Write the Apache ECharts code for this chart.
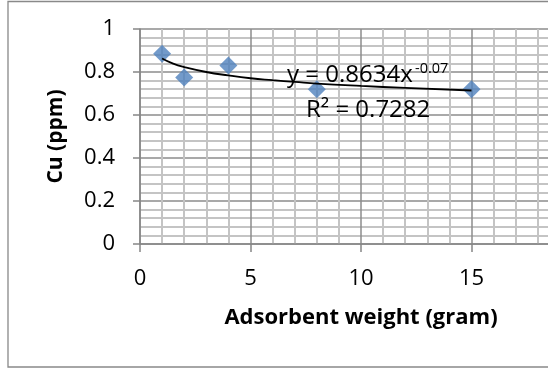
<!DOCTYPE html>
<html>
<head>
<meta charset="utf-8">
<script src="https://cdn.jsdelivr.net/npm/echarts@6/dist/echarts.min.js"></script>
<style>
html,body{margin:0;padding:0;background:#fff;}
#chart{width:548px;height:368px;}
</style>
</head>
<body>
<div id="chart"></div>
<script>
// Data
const weights = [1, 2, 4, 8, 15];
const cuValues = [0.885, 0.775, 0.83, 0.72, 0.72];
// Power trendline as drawn in the picture (y = 0.8634x^-0.07)
const trendX = [1, 1.5, 2, 3, 4, 5, 6, 7, 8, 10, 12, 15];
const trendY = [0.863, 0.839, 0.823, 0.800, 0.784, 0.771, 0.762, 0.754, 0.746, 0.735, 0.726, 0.714];
const yTicks = [0, 0.2, 0.4, 0.6, 0.8, 1];
const xTicks = [0, 5, 10, 15, 20];
const equationText = 'y = 0.8634x';
const exponentText = '-0.07';
const r2Text = 'R² = 0.7282';
const xTitle = 'Adsorbent weight (gram)';
const yTitle = 'Cu (ppm)';

const FONT = '"Open Sans", "Noto Sans", sans-serif';
const chart = echarts.init(document.getElementById('chart'), null, {renderer: 'canvas'});

const scatterData = weights.map((w, i) => [w, cuValues[i]]);
const trendData = trendX.map((x, i) => [x, trendY[i]]);

chart.setOption({
  animation: false,
  backgroundColor: '#fff',
  grid: {left: 140, top: 29, width: 442, height: 215, outerBoundsMode: 'none', containLabel: false},
  xAxis: {
    type: 'value',
    min: xTicks[0], max: xTicks[xTicks.length - 1], interval: 5,
    name: xTitle, nameLocation: 'middle', nameGap: 63,
    nameTextStyle: {fontFamily: FONT, fontSize: 22, fontWeight: 'bold', color: '#000'},
    axisLine: {show: true, onZero: false, lineStyle: {color: '#878787', width: 1.5}},
    axisTick: {show: true, length: 8, lineStyle: {color: '#878787', width: 1.5}},
    axisLabel: {margin: 24, fontFamily: FONT, fontSize: 22, color: '#000', showMaxLabel: false},
    splitLine: {show: true, lineStyle: {color: '#8c8c8c', width: 1.5}},
    minorTick: {show: false, splitNumber: 5},
    minorSplitLine: {show: true, lineStyle: {color: '#c4c4c4', width: 2}}
  },
  yAxis: {
    type: 'value',
    min: yTicks[0], max: yTicks[yTicks.length - 1], interval: 0.2,
    name: yTitle, nameLocation: 'middle', nameGap: 73, nameRotate: 90,
    nameTextStyle: {fontFamily: FONT, fontSize: 21, fontWeight: 'bold', color: '#000'},
    axisLine: {show: true, lineStyle: {color: '#878787', width: 1.5}},
    axisTick: {show: true, length: 7, lineStyle: {color: '#878787', width: 1.5}},
    axisLabel: {margin: 25, fontFamily: FONT, fontSize: 22, color: '#000'},
    splitLine: {show: true, lineStyle: {color: '#8c8c8c', width: 1.5}},
    minorTick: {show: false, splitNumber: 5},
    minorSplitLine: {show: true, lineStyle: {color: '#c4c4c4', width: 2}}
  },
  series: [
    {
      type: 'line',
      data: trendData,
      smooth: true,
      showSymbol: false,
      symbol: 'none',
      lineStyle: {color: '#000', width: 1.8},
      z: 3
    },
    {
      type: 'scatter',
      data: scatterData,
      symbol: 'diamond',
      symbolSize: 18,
      itemStyle: {color: '#4f81bd'},
      z: 2
    }
  ],
  graphic: [
    {
      type: 'rect',
      shape: {x: 8, y: 1.5, width: 600, height: 365.5},
      style: {fill: null, stroke: '#898989', lineWidth: 1.3},
      silent: true, z: 100
    },
    {
      type: 'text', left: 287, top: 63, z: 101,
      style: {text: equationText, fontFamily: FONT, fontSize: 24, fill: '#000'}
    },
    {
      type: 'text', left: 415, top: 61, z: 101,
      style: {text: exponentText, fontFamily: FONT, fontSize: 14.5, fill: '#000'}
    },
    {
      type: 'text', left: 306, top: 98, z: 101,
      style: {text: r2Text, fontFamily: FONT, fontSize: 24, fill: '#000'}
    }
  ]
});
</script>
</body>
</html>
